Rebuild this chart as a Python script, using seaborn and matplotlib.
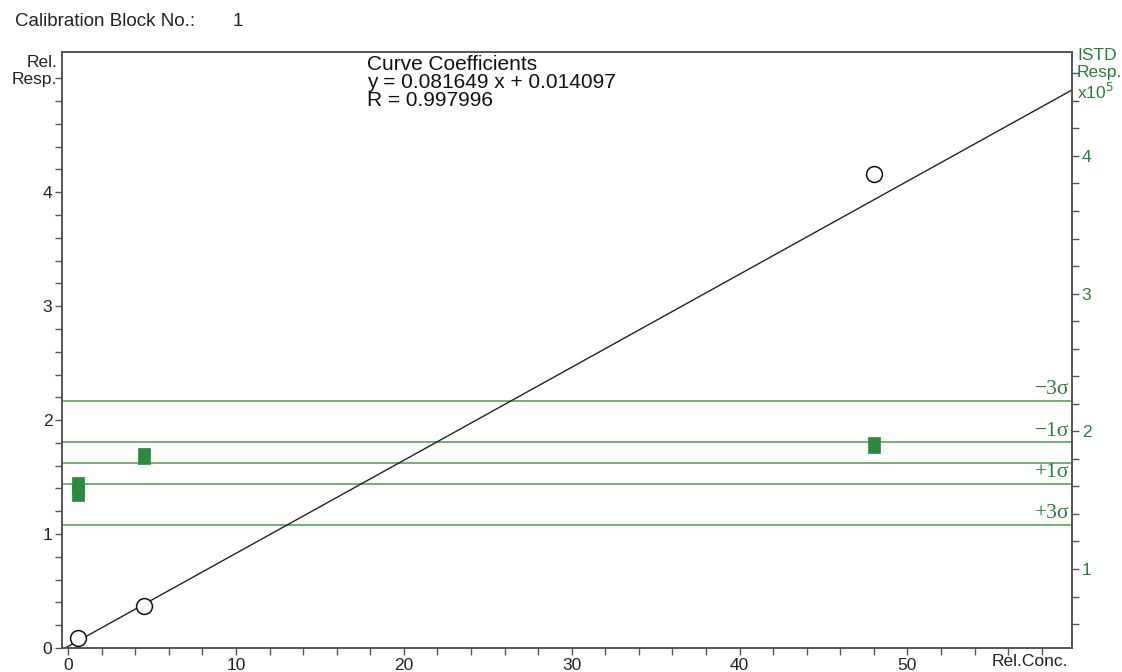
import numpy as np
import pandas as pd
import matplotlib
matplotlib.use("Agg")
import matplotlib.pyplot as plt
import seaborn as sns

# calibration points (Rel.Conc. vs Rel.Resp.)
conc = [0.6, 4.5, 48.0]
rel_resp = [0.09, 0.37, 4.16]

# ISTD response (x10^5)
istd_conc = [0.6, 0.6, 4.5, 48.0]
istd_resp = [1.61, 1.55, 1.82, 1.90]

# curve coefficients
slope = 0.081649
intercept = 0.014097
r_value = 0.997996

# ISTD limits
sigma_labels = ["\u22123\u03c3", "\u22121\u03c3", "", "+1\u03c3", "+3\u03c3"]
sigma_levels = [2.22, 1.92, 1.77, 1.617, 1.32]

sns.set_style("white")
plt.rcParams["font.family"] = ["Liberation Sans", "DejaVu Sans"]

green = "#2b8a3e"
green_txt = "#2a7d3a"
spine_c = "#555555"

fig = plt.figure(figsize=(11.22, 6.72), dpi=100)
ax = fig.add_axes([62 / 1122, 1 - 648 / 672, (1072 - 62) / 1122, (648 - 52) / 672])
ax2 = ax.twinx()

xmin, xmax = -0.36, 59.8
ax.set_xlim(xmin, xmax)
ax.set_ylim(0, 5.23)
ax2.set_ylim(0.426, 4.755)

# fit line
xfit = np.array([xmin, xmax])
fit_df = pd.DataFrame({"x": xfit, "y": slope * xfit + intercept})
sns.lineplot(data=fit_df, x="x", y="y", ax=ax, color="#222222", linewidth=1.0)

# sigma lines on ISTD axis
for lab, lev in zip(sigma_labels, sigma_levels):
    ax2.axhline(lev, color="#4c9a50", linewidth=1.1, zorder=1)
    if lab:
        ax2.text(59.65, lev + 0.012, lab, ha="right", va="bottom", color=green_txt,
                 fontsize=15.5, family=["Liberation Serif", "DejaVu Serif"])

# ISTD squares
rect = [(-0.4, -0.5), (0.4, -0.5), (0.4, 0.5), (-0.4, 0.5), (-0.4, -0.5)]
istd_df = pd.DataFrame({"x": istd_conc, "y": istd_resp})
sns.scatterplot(data=istd_df, x="x", y="y", ax=ax2, marker=rect, s=135,
                color=green, edgecolor=green, linewidth=0.5, zorder=3)

# calibration points
cal_df = pd.DataFrame({"x": conc, "y": rel_resp})
sns.scatterplot(data=cal_df, x="x", y="y", ax=ax, s=130, facecolor="white",
                edgecolor="#111111", linewidth=1.1, zorder=4)
ax.set_zorder(ax2.get_zorder() + 1)
ax.patch.set_visible(False)

# ticks
ax.set_xticks([0, 10, 20, 30, 40, 50])
ax.set_xticks(np.arange(0, 60, 2), minor=True)
ax.set_yticks([0, 1, 2, 3, 4])
ax.set_yticks(np.arange(0, 5.2, 0.2), minor=True)
ax2.set_yticks([1, 2, 3, 4])
ax2.set_yticks(np.arange(0.6, 4.8, 0.2), minor=True)
ax.tick_params(axis="both", which="both", direction="out", length=5, width=1,
               color=spine_c, labelsize=12.5, pad=2, labelcolor="#222222")
ax.tick_params(axis="x", which="both", bottom=True)
ax.tick_params(axis="y", which="both", left=True)
ax2.tick_params(axis="y", which="both", direction="out", length=5, width=1,
                color=spine_c, labelsize=12.5, labelcolor=green_txt, pad=2, right=True)
ax.set_xlabel("")
ax.set_ylabel("")
ax2.set_ylabel("")
for a in (ax, ax2):
    for s in a.spines.values():
        s.set_color(spine_c)
        s.set_linewidth(1.2)

# texts
fig.text(15 / 1122, 1 - 22 / 672, "Calibration Block No.:", fontsize=13.5,
         va="center", ha="left", color="#222222")
fig.text(233 / 1122, 1 - 22 / 672, "1", fontsize=13.5, va="center", ha="left", color="#222222")
fig.text(367 / 1122, 1 - 65 / 672, "Curve Coefficients", fontsize=15, va="center", color="#111111")
fig.text(367 / 1122, 1 - 83 / 672, f"y = {slope:.6f} x + {intercept:.6f}", fontsize=15,
         va="center", color="#111111")
fig.text(367 / 1122, 1 - 101 / 672, f"R = {r_value:.6f}", fontsize=15, va="center", color="#111111")
fig.text(57 / 1122, 1 - 71 / 672, "Rel.\nResp.", fontsize=12.5, ha="right", va="center",
         linespacing=1.1, color="#222222")
fig.text(1077 / 1122, 1 - 75 / 672, "ISTD\nResp.\nx10$^5$", fontsize=12.5, ha="left", va="center",
         linespacing=1.1, color=green_txt)
fig.text(1030 / 1122, 1 - 662 / 672, "Rel.Conc.", fontsize=12.5, ha="center", va="center",
         color="#222222")

fig.savefig("out.png", dpi=100)
